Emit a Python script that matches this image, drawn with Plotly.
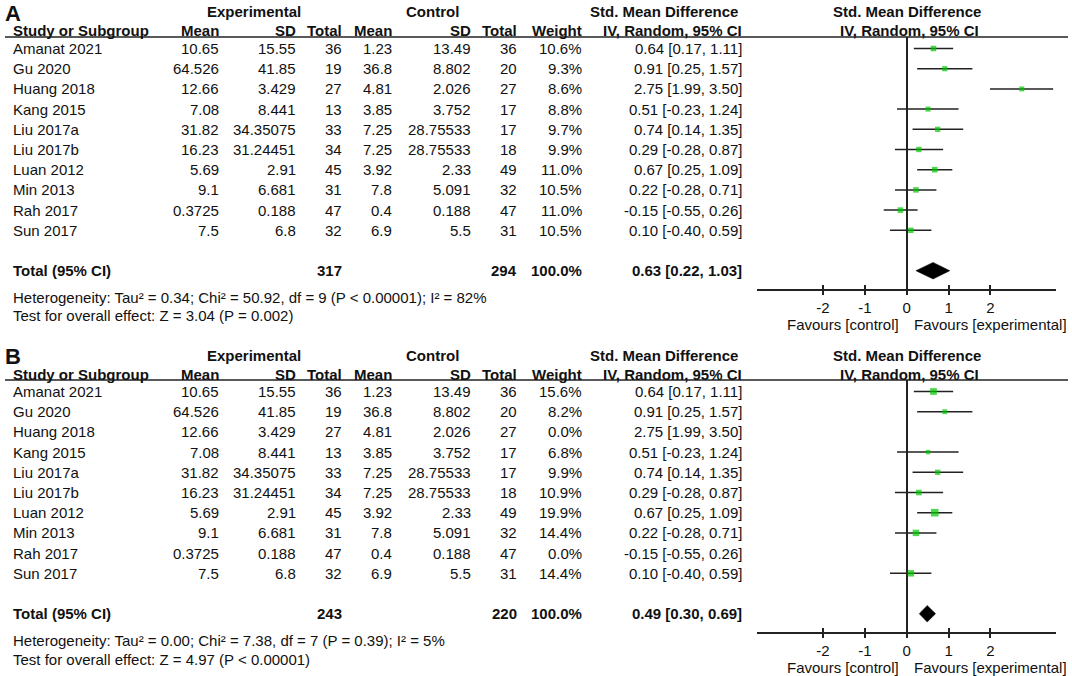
import plotly.graph_objects as go

# ---------------- data ----------------
studies = ["Amanat 2021", "Gu 2020", "Huang 2018", "Kang 2015", "Liu 2017a",
           "Liu 2017b", "Luan 2012", "Min 2013", "Rah 2017", "Sun 2017"]
exp_mean = [10.65, 64.526, 12.66, 7.08, 31.82, 16.23, 5.69, 9.1, 0.3725, 7.5]
exp_sd = [15.55, 41.85, 3.429, 8.441, 34.35075, 31.24451, 2.91, 6.681, 0.188, 6.8]
exp_n = [36, 19, 27, 13, 33, 34, 45, 31, 47, 32]
ctl_mean = [1.23, 36.8, 4.81, 3.85, 7.25, 7.25, 3.92, 7.8, 0.4, 6.9]
ctl_sd = [13.49, 8.802, 2.026, 3.752, 28.75533, 28.75533, 2.33, 5.091, 0.188, 5.5]
ctl_n = [36, 20, 27, 17, 17, 18, 49, 32, 47, 31]
smd = [0.64, 0.91, 2.75, 0.51, 0.74, 0.29, 0.67, 0.22, -0.15, 0.10]
ci_lo = [0.17, 0.25, 1.99, -0.23, 0.14, -0.28, 0.25, -0.28, -0.55, -0.40]
ci_hi = [1.11, 1.57, 3.50, 1.24, 1.35, 0.87, 1.09, 0.71, 0.26, 0.59]
weight_a = [10.6, 9.3, 8.6, 8.8, 9.7, 9.9, 11.0, 10.5, 11.0, 10.5]
weight_b = [15.6, 8.2, 0.0, 6.8, 9.9, 10.9, 19.9, 14.4, 0.0, 14.4]

panel_labels = ["A", "B"]
total_exp = [317, 243]
total_ctl = [294, 220]
total_est = [0.63, 0.49]
total_lo = [0.22, 0.30]
total_hi = [1.03, 0.69]
heterogeneity = [
    "Heterogeneity: Tau² = 0.34; Chi² = 50.92, df = 9 (P < 0.00001); I² = 82%",
    "Heterogeneity: Tau² = 0.00; Chi² = 7.38, df = 7 (P = 0.39); I² = 5%",
]
overall = [
    "Test for overall effect: Z = 3.04 (P = 0.002)",
    "Test for overall effect: Z = 4.97 (P < 0.00001)",
]
tick_vals = [-2, -1, 0, 1, 2]
tick_text = ["-2", "-1", "0", "1", "2"]
favour_left = "Favours [control]"
favour_right = "Favours [experimental]"

# ---------------- layout constants (pixels) ----------------
W, H = 1072, 676
FONT = "Liberation Sans, Arial, sans-serif"
FS = 15
TXT = "#111111"
LINE = "#222222"
GREEN = "#00c800"
PANEL_OFF = [0, 343]
ROW0 = 48.5
ROWH = 20.2
TOTAL_ROW = 11
X_NAME = 12
COL_RIGHT = [220, 297, 343, 393, 472, 518, 583, 743]
HDR1_Y, HDR2_Y, RULE_Y = 12, 31, 37
AX_LEFT, AX_RIGHT = 757, 1056
ZERO_PX = 906.7
PX_PER_UNIT = 41.85
AXIS_Y = 289


def px(x):
    return x / W


def py(y):
    return 1 - y / H


fig = go.Figure()
ann = []
shapes = []


def txt(x, y, s, anchor="left", bold=False, size=FS):
    ann.append(dict(x=px(x), y=py(y), xref="paper", yref="paper",
                    text=f"<b>{s}</b>" if bold else s, showarrow=False,
                    xanchor=anchor, yanchor="middle", borderpad=0,
                    font=dict(family=FONT, size=size, color=TXT)))


xr = [(AX_LEFT - ZERO_PX) / PX_PER_UNIT, (AX_RIGHT - ZERO_PX) / PX_PER_UNIT]
yr_top = (RULE_Y - ROW0) / ROWH
yr_bot = (AXIS_Y - ROW0) / ROWH

layout_axes = {}
for k in range(2):
    off = PANEL_OFF[k]
    weights = weight_a if k == 0 else weight_b
    xa_name = f"x{k + 2}"
    ya_name = f"y{k + 2}"
    xo_name = f"x{k + 4}"

    def rowy(r):
        return off + ROW0 + ROWH * r

    # panel letter
    txt(4, off + 13.5, panel_labels[k], bold=True, size=22)
    # header row 1
    txt(254, off + HDR1_Y, "Experimental", anchor="center", bold=True)
    txt(432, off + HDR1_Y, "Control", anchor="center", bold=True)
    txt(664, off + HDR1_Y, "Std. Mean Difference", anchor="center", bold=True)
    txt(907, off + HDR1_Y, "Std. Mean Difference", anchor="center", bold=True)
    # header row 2
    txt(X_NAME, off + HDR2_Y, "Study or Subgroup", bold=True)
    for c, h in zip(COL_RIGHT, ["Mean", "SD", "Total", "Mean", "SD", "Total",
                                "Weight", "IV, Random, 95% CI"]):
        txt(c, off + HDR2_Y, h, anchor="right", bold=True)
    txt(909, off + HDR2_Y, "IV, Random, 95% CI", anchor="center", bold=True)
    shapes.append(dict(type="line", xref="paper", yref="paper",
                       x0=px(5), x1=px(1068), y0=py(off + RULE_Y), y1=py(off + RULE_Y),
                       line=dict(color=LINE, width=1.3)))

    # rows
    for i, s in enumerate(studies):
        y = rowy(i)
        txt(X_NAME, y, s)
        vals = [exp_mean[i], exp_sd[i], exp_n[i], ctl_mean[i], ctl_sd[i], ctl_n[i],
                f"{weights[i]:.1f}%", f"{smd[i]:.2f} [{ci_lo[i]:.2f}, {ci_hi[i]:.2f}]"]
        for c, v in zip(COL_RIGHT, vals):
            txt(c, y, str(v), anchor="right")

    # total row
    yt = rowy(TOTAL_ROW)
    txt(X_NAME, yt, "Total (95% CI)", bold=True)
    txt(COL_RIGHT[2], yt, str(total_exp[k]), anchor="right", bold=True)
    txt(COL_RIGHT[5], yt, str(total_ctl[k]), anchor="right", bold=True)
    txt(COL_RIGHT[6], yt, "100.0%", anchor="right", bold=True)
    txt(COL_RIGHT[7], yt, f"{total_est[k]:.2f} [{total_lo[k]:.2f}, {total_hi[k]:.2f}]",
        anchor="right", bold=True)
    txt(X_NAME, off + 297, heterogeneity[k])
    txt(X_NAME, off + 316, overall[k])
    txt(843, off + 324, favour_left, anchor="center")
    txt(990, off + 324, favour_right, anchor="center")

    # forest: CI lines
    xs, ys = [], []
    for i in range(len(studies)):
        if weights[i] > 0:
            xs += [ci_lo[i], ci_hi[i], None]
            ys += [i, i, None]
    fig.add_trace(go.Scatter(x=xs, y=ys, mode="lines", xaxis=xa_name, yaxis=ya_name,
                             line=dict(color=LINE, width=1.5), showlegend=False,
                             hoverinfo="skip"))
    idx = [i for i in range(len(studies)) if weights[i] > 0]
    fig.add_trace(go.Scatter(x=[smd[i] for i in idx], y=idx, mode="markers",
                             xaxis=xa_name, yaxis=ya_name,
                             marker=dict(symbol="square", color=GREEN,
                                         size=[1.7 * weights[i] ** 0.5 for i in idx],
                                         line=dict(width=0)),
                             showlegend=False))
    hh = 0.41
    fig.add_trace(go.Scatter(x=[total_lo[k], total_est[k], total_hi[k], total_est[k], total_lo[k]],
                             y=[TOTAL_ROW, TOTAL_ROW - hh, TOTAL_ROW, TOTAL_ROW + hh, TOTAL_ROW],
                             mode="lines", fill="toself", fillcolor="black",
                             line=dict(color="black", width=0.5),
                             xaxis=xa_name, yaxis=ya_name, showlegend=False))
    # dummy trace to activate the overlay axis with inward ticks
    fig.add_trace(go.Scatter(x=[None], y=[None], xaxis=xo_name, yaxis=ya_name,
                             showlegend=False, hoverinfo="skip"))

    dom_y = [py(off + AXIS_Y), py(off + RULE_Y)]
    dom_x = [px(AX_LEFT), px(AX_RIGHT)]
    layout_axes[f"xaxis{k + 2}"] = dict(
        domain=dom_x, range=xr, anchor=ya_name, showgrid=False,
        zeroline=True, zerolinecolor=LINE, zerolinewidth=1.5,
        showline=True, linecolor=LINE, linewidth=1.5,
        ticks="outside", ticklen=4, tickwidth=1.5, tickcolor=LINE,
        tickvals=tick_vals, ticktext=tick_text,
        tickfont=dict(family=FONT, size=FS, color=TXT), fixedrange=True)
    layout_axes[f"xaxis{k + 4}"] = dict(
        domain=dom_x, range=xr, anchor=ya_name, overlaying=xa_name,
        showgrid=False, zeroline=False, showline=False,
        ticks="inside", ticklen=4, tickwidth=1.5, tickcolor=LINE,
        tickvals=tick_vals, showticklabels=False, fixedrange=True)
    layout_axes[f"yaxis{k + 2}"] = dict(
        domain=dom_y, range=[yr_bot, yr_top], anchor=xa_name, visible=False,
        showgrid=False, zeroline=False, fixedrange=True)

fig.update_layout(
    width=W, height=H, margin=dict(l=0, r=0, t=0, b=0),
    paper_bgcolor="white", plot_bgcolor="rgba(0,0,0,0)",
    annotations=ann, shapes=shapes, showlegend=False,
    xaxis=dict(visible=False), yaxis=dict(visible=False),
    **layout_axes,
)
fig.write_html(
    "out.html",
    config={"displayModeBar": False},
    post_script="document.body.style.margin='0';document.body.style.overflow='hidden';",
)
